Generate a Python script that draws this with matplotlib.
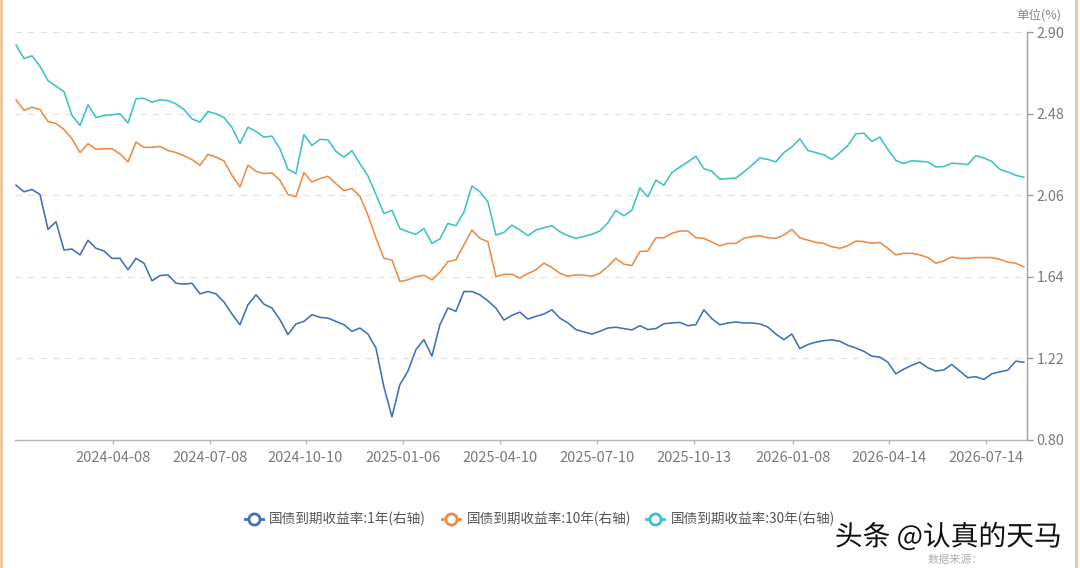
import numpy as np
import matplotlib
matplotlib.use("Agg")
import matplotlib.pyplot as plt
from matplotlib.lines import Line2D
import matplotlib.patheffects as pe

plt.rcParams['font.family'] = ['Noto Sans CJK SC', 'DejaVu Sans']

# ── datos (muestras equiespaciadas) ──
yield_30y = [2.835, 2.766, 2.780, 2.725, 2.652, 2.623, 2.595, 2.472, 2.421, 2.527, 2.462, 2.472, 2.476, 2.481, 2.434, 2.558,
             2.561, 2.541, 2.553, 2.549, 2.532, 2.503, 2.455, 2.438, 2.493, 2.481, 2.462, 2.411, 2.327, 2.412, 2.390, 2.361,
             2.366, 2.301, 2.195, 2.173, 2.373, 2.318, 2.349, 2.347, 2.287, 2.258, 2.291, 2.224, 2.161, 2.065, 1.967, 1.984,
             1.890, 1.873, 1.860, 1.890, 1.813, 1.836, 1.916, 1.904, 1.973, 2.109, 2.079, 2.027, 1.856, 1.870, 1.907,
             1.882, 1.853, 1.882, 1.894, 1.904, 1.873, 1.853, 1.839, 1.849, 1.860, 1.877, 1.919, 1.983, 1.955, 1.984, 2.099,
             2.053, 2.139, 2.113, 2.178, 2.207, 2.233, 2.263, 2.198, 2.185, 2.144, 2.147, 2.150, 2.181, 2.216, 2.253, 2.246,
             2.233, 2.281, 2.310, 2.352, 2.292, 2.281, 2.270, 2.246, 2.281, 2.318, 2.378, 2.381, 2.339, 2.361, 2.298, 2.241,
             2.224, 2.239, 2.236, 2.233, 2.207, 2.209, 2.226, 2.224, 2.219, 2.265, 2.253, 2.236, 2.195, 2.181, 2.164, 2.154]

yield_10y = [2.554, 2.498, 2.515, 2.503, 2.441, 2.431, 2.400, 2.352, 2.281, 2.327, 2.298, 2.301, 2.301, 2.274, 2.233, 2.335,
             2.308, 2.308, 2.313, 2.292, 2.281, 2.265, 2.245, 2.216, 2.272, 2.258, 2.238, 2.164, 2.104, 2.216, 2.185, 2.173,
             2.176, 2.139, 2.065, 2.053, 2.178, 2.130, 2.147, 2.159, 2.121, 2.085, 2.096, 2.056, 1.959, 1.842, 1.736, 1.728,
             1.617, 1.625, 1.642, 1.649, 1.625, 1.665, 1.719, 1.728, 1.805, 1.882, 1.839, 1.822, 1.642, 1.654, 1.654,
             1.634, 1.658, 1.677, 1.711, 1.689, 1.659, 1.644, 1.651, 1.649, 1.644, 1.659, 1.694, 1.736, 1.706, 1.699, 1.771,
             1.774, 1.842, 1.842, 1.865, 1.877, 1.877, 1.842, 1.839, 1.820, 1.801, 1.813, 1.813, 1.839, 1.848, 1.853, 1.842,
             1.839, 1.856, 1.885, 1.842, 1.830, 1.818, 1.813, 1.796, 1.788, 1.801, 1.825, 1.822, 1.813, 1.818, 1.788, 1.754,
             1.762, 1.762, 1.754, 1.740, 1.711, 1.723, 1.743, 1.736, 1.736, 1.740, 1.740, 1.740, 1.731, 1.716, 1.711, 1.692]

yield_1y = [2.113, 2.079, 2.091, 2.065, 1.885, 1.925, 1.779, 1.784, 1.754, 1.829, 1.788, 1.774, 1.736, 1.736, 1.677, 1.736,
            1.711, 1.620, 1.647, 1.651, 1.608, 1.603, 1.608, 1.553, 1.565, 1.553, 1.511, 1.449, 1.394, 1.497, 1.548, 1.500,
            1.480, 1.420, 1.343, 1.398, 1.411, 1.446, 1.432, 1.428, 1.411, 1.394, 1.360, 1.377, 1.346, 1.274, 1.073, 0.919,
            1.086, 1.155, 1.266, 1.317, 1.232, 1.394, 1.480, 1.463, 1.565, 1.565, 1.548, 1.517, 1.480, 1.418, 1.442,
            1.459, 1.423, 1.437, 1.449, 1.471, 1.428, 1.403, 1.369, 1.357, 1.346, 1.360, 1.377, 1.381, 1.374, 1.367, 1.389,
            1.369, 1.374, 1.399, 1.403, 1.406, 1.389, 1.394, 1.471, 1.425, 1.394, 1.403, 1.408, 1.403, 1.403, 1.398, 1.382,
            1.346, 1.317, 1.346, 1.271, 1.292, 1.304, 1.312, 1.316, 1.309, 1.288, 1.274, 1.257, 1.232, 1.227, 1.201, 1.141,
            1.165, 1.185, 1.201, 1.172, 1.155, 1.161, 1.189, 1.155, 1.121, 1.126, 1.112, 1.141, 1.151, 1.160, 1.206, 1.201]

fechas = ["2024-04-08", "2024-07-08", "2024-10-10", "2025-01-06", "2025-04-10",
          "2025-07-10", "2025-10-13", "2026-01-08", "2026-04-14", "2026-07-14"]
pos_fechas = [12.1, 24.2, 36.2, 48.4, 60.5, 72.7, 84.8, 97.1, 109.2, 121.3]
y_ticks = [0.80, 1.22, 1.64, 2.06, 2.48, 2.90]

series = [("国债到期收益率:1年(右轴)", yield_1y, "#4170B8"),
          ("国债到期收益率:10年(右轴)", yield_10y, "#EC8C42"),
          ("国债到期收益率:30年(右轴)", yield_30y, "#3DC2C3")]

fig = plt.figure(figsize=(10.8, 5.68), dpi=100)
ax = fig.add_axes([0.0139, 0.2254, 0.937, 0.7174])

x = np.arange(len(yield_1y))
for nombre, valores, color in series:
    ax.plot(x, valores, color=color, lw=1.15, label=nombre, zorder=3)

ax.set_xlim(-0.125, 126.4)
ax.set_ylim(0.80, 2.90)

# eje derecho
ax.yaxis.tick_right()
ax.set_yticks(y_ticks)
ax.set_yticklabels([f"{v:.2f}" for v in y_ticks])
ax.tick_params(axis="y", colors="#9a9a9a", labelcolor="#7a7a7a", labelsize=10.3,
               length=4, width=1, pad=3)
for v in y_ticks[1:]:
    ax.axhline(v, color="#e2e2e2", lw=0.9, ls=(0, (5, 5)), zorder=1)

ax.set_xticks(pos_fechas)
ax.set_xticklabels(fechas)
ax.tick_params(axis="x", colors="#bbbbbb", labelcolor="#7a7a7a", labelsize=10.5,
               length=3, width=1, pad=5)

for s in ["top", "left"]:
    ax.spines[s].set_visible(False)
ax.spines["right"].set_color("#a0a0a0")
ax.spines["bottom"].set_color("#b5b5b5")
ax.spines["right"].set_linewidth(1.0)
ax.spines["bottom"].set_linewidth(1.0)

fig.text(0.983, 0.985, "单位(%)", ha="right", va="top", fontsize=9, color="#8a8a8a")

# leyenda
handles = [Line2D([0], [0], color=c, lw=2, marker="o", markersize=8,
                  markerfacecolor="white", markeredgewidth=2) for _, _, c in series]
fig.legend(handles, [n for n, _, _ in series], loc="center", bbox_to_anchor=(0.5, 0.086),
           ncol=3, frameon=False, fontsize=9.8, labelcolor="#555555",
           handlelength=1.3, handletextpad=0.5, columnspacing=1.15)

# marca de agua
t = fig.text(0.773, 0.054, "头条 @认真的天马", fontsize=20, color="#111111", ha="left", va="center")
t.set_path_effects([pe.withStroke(linewidth=3, foreground="white")])
fig.text(0.859, 0.015, "数据来源：", fontsize=8, color="#b0b0b0", ha="left", va="center", zorder=0)

# bordes laterales
fig.add_artist(Line2D([0.001, 0.001], [0, 1], color="#EFC39B", lw=2, transform=fig.transFigure))
fig.add_artist(Line2D([0.996, 0.996], [0, 1], color="#EFC39B", lw=2, transform=fig.transFigure))

plt.savefig("out.png", dpi=100)
